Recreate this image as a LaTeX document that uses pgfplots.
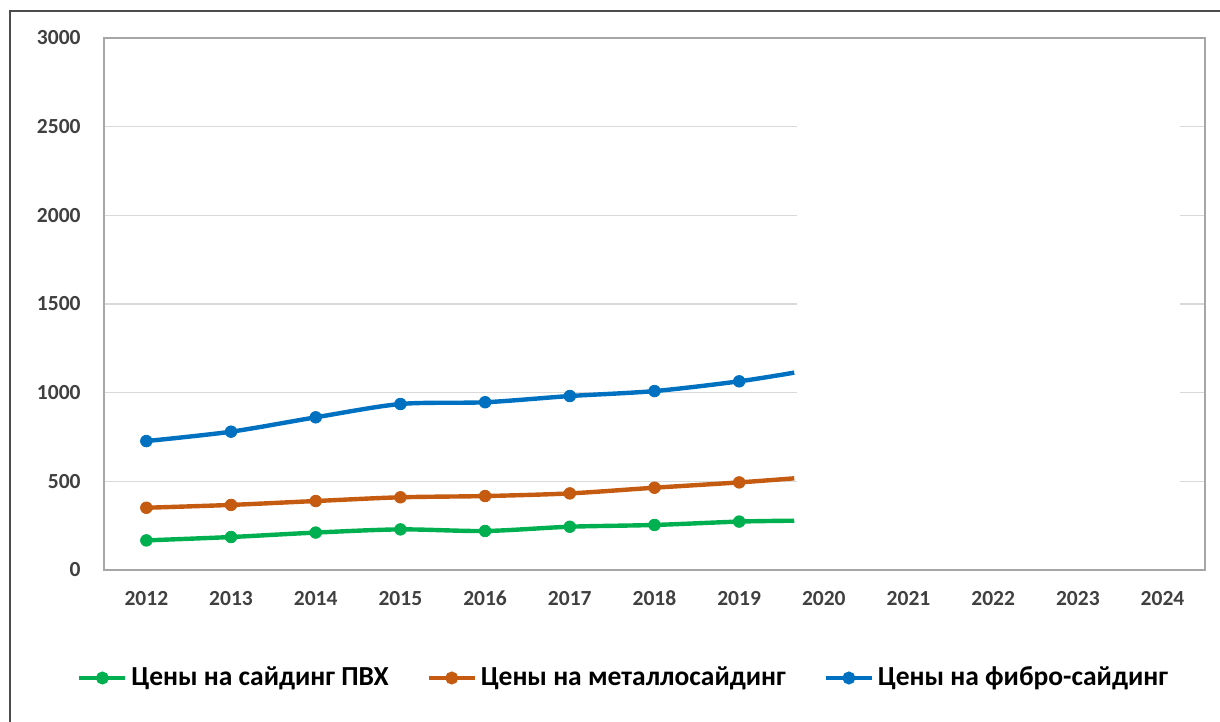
\documentclass[border=0pt]{standalone}
\usepackage{fontspec}
\setmainfont{Carlito}
\usepackage{pgfplots}
\pgfplotsset{compat=1.18}
\definecolor{pvhgreen}{HTML}{00B050}
\definecolor{metorange}{HTML}{C55A11}
\definecolor{fibroblue}{HTML}{0070C0}
\definecolor{gridgray}{HTML}{D9D9D9}
\definecolor{labelgray}{HTML}{404040}

\begin{document}
\begin{tikzpicture}
\useasboundingbox (0,0) rectangle (610bp,361bp);
% outer frame (only left and top visible)
\draw[line width=1.2bp, color=black!70] (5bp,0) -- (5bp,355.5bp) -- (610bp,355.5bp);
\begin{axis}[
  at={(52bp,76bp)}, anchor=south west,
  scale only axis, width=550.5bp, height=266bp,
  xmin=2011.5, xmax=2024.5, ymin=0, ymax=3000,
  xtick={2012,...,2024}, ytick={0,500,...,3000},
  major tick length=0pt,
  ymajorgrids, grid style={draw=gridgray, line width=0.6bp},
  axis line style={draw=black!35, line width=0.75bp},
  /pgf/number format/assume math mode=true,
  /pgf/number format/1000 sep={},
  tick label style={font=\fontsize{10.8}{12}\selectfont\bfseries, text=labelgray},
  xticklabel style={anchor=base, inner sep=0pt, yshift=-17.5bp},
  yticklabel style={anchor=east, inner sep=0pt, xshift=-11.5bp},
  legend columns=3,
  legend style={at={(-0.0245,-0.203)}, anchor=west, draw=none, fill=none,
                inner sep=0pt, font=\fontsize{13.8}{15}\selectfont\bfseries,
                /tikz/every even column/.append style={column sep=17bp}},
  legend image code/.code={%
    \draw[mark repeat=2, mark phase=2, #1]
      plot coordinates {(0bp,0bp) (11.5bp,0bp) (23bp,0bp)};},
]
% the part of the plot area that is blank in the reference
\fill[white] (axis cs:2019.68,8) rectangle (axis cs:2024.2,2992);

\addlegendimage{pvhgreen, line width=2bp, mark=*, mark size=2.2bp}
\addlegendentry{Цены на сайдинг ПВХ}
\addlegendimage{metorange, line width=2bp, mark=*, mark size=2.2bp}
\addlegendentry{Цены на металлосайдинг}
\addlegendimage{fibroblue, line width=2bp, mark=*, mark size=2.2bp}
\addlegendentry{Цены на фибро-сайдинг}

% ПВХ
\addplot[pvhgreen, line width=2.2bp, smooth, forget plot] coordinates {
  (2012,167)(2013,186)(2014,211)(2015,229)(2016,220)
  (2017,244)(2018,254)(2019,273)(2019.65,278)};
\addplot[pvhgreen, only marks, mark=*, mark size=2.9bp, forget plot] coordinates {
  (2012,167)(2013,186)(2014,211)(2015,229)(2016,220)
  (2017,244)(2018,254)(2019,273)};
% металлосайдинг
\addplot[metorange, line width=2.2bp, smooth, forget plot] coordinates {
  (2012,351)(2013,367)(2014,389)(2015,410)(2016,417)
  (2017,432)(2018,464)(2019,494)(2019.65,517)};
\addplot[metorange, only marks, mark=*, mark size=2.9bp, forget plot] coordinates {
  (2012,351)(2013,367)(2014,389)(2015,410)(2016,417)
  (2017,432)(2018,464)(2019,494)};
% фибро-сайдинг
\addplot[fibroblue, line width=2.2bp, smooth, forget plot] coordinates {
  (2012,727)(2013,780)(2014,861)(2015,936)(2016,946)
  (2017,981)(2018,1009)(2019,1064)(2019.65,1113)};
\addplot[fibroblue, only marks, mark=*, mark size=2.9bp, forget plot] coordinates {
  (2012,727)(2013,780)(2014,861)(2015,936)(2016,946)
  (2017,981)(2018,1009)(2019,1064)};
\end{axis}
\end{tikzpicture}
\end{document}
